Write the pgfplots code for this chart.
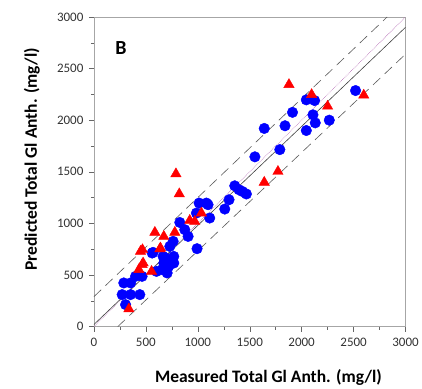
\documentclass[border=0pt]{standalone}
\usepackage{pgfplots}
\pgfplotsset{compat=1.18}
\usepackage{fontspec}
\setmainfont{Carlito}
\begin{document}
\begin{tikzpicture}
\begin{axis}[
  scale only axis,
  width=312bp, height=310bp,
  xmin=0, xmax=3000, ymin=0, ymax=3000,
  xtick={0,500,...,3000}, ytick={0,500,...,3000},
  minor xtick={250,750,...,2750}, minor ytick={250,750,...,2750},
  tick align=outside,
  xtick pos=bottom, ytick pos=left,
  major tick length=5bp, minor tick length=3bp,
  axis line style={draw=gray!70},
  every tick/.style={draw=gray!80!black},
  /pgf/number format/assume math mode=true,
  /pgf/number format/set thousands separator={},
  tick label style={font=\fontsize{13bp}{15bp}\selectfont, text=black!80},
  xticklabel style={yshift=-3bp},
  yticklabel style={xshift=-2bp},
  xlabel={\textbf{Measured Total Gl Anth. (mg/l)}},
  ylabel={\textbf{Predicted Total Gl Anth. (mg/l)}},
  label style={font=\fontsize{17.5bp}{20bp}\selectfont},
  xlabel style={at={(axis description cs:0.56,-0.165)}, anchor=center},
  ylabel style={at={(axis description cs:-0.199,0.54)}, anchor=center},
  clip=true,
]
% 1:1 line
\addplot[densely dotted, color=violet!60, line width=0.6pt] coordinates {(0,0) (3000,3000)};
% regression line
\addplot[black!75, line width=0.6pt] coordinates {(0,20) (3000,2900)};
% prediction bounds
\addplot[black!65, line width=0.6pt, dash pattern=on 10bp off 6bp] coordinates {(0,290) (2823,3000)};
\addplot[black!65, line width=0.6pt, dash pattern=on 10bp off 6bp] coordinates {(230,0) (3000,2640)};
% blue circles
\addplot[only marks, mark=*, mark size=5.3bp, mark options={draw=blue, fill=blue}] coordinates {
(272,310) (353,310) (442,310) (305,213) (288,423) (353,423) (401,487) (464,487)
(561,713) (570,719) (603,535) (657,552) (705,520) (673,616) (721,584) (689,665)
(769,680) (769,616) (666,680) (699,648) (731,777) (763,826) (827,1009) (875,939)
(907,874) (993,755) (987,1100) (1013,1197) (1099,1181) (1115,1052) (1083,1197)
(1260,1139) (1301,1229) (1356,1364) (1397,1326) (1430,1309) (1468,1285)
(1550,1645) (1640,1920) (1790,1715) (1840,1946) (1912,2076) (2045,2197) (2125,2190)
(2045,1900) (2109,2052) (2131,1974) (2266,2000) (2519,2287)
};
% red triangles
\addplot[only marks, mark=triangle*, mark size=6bp, mark options={draw=red, fill=red}] coordinates {
(337,171) (433,552) (464,600) (474,616) (449,729) (468,745) (555,535)
(635,752) (641,761) (587,913) (673,874) (779,913) (790,1480) (822,1286)
(923,1029) (971,1019) (1035,1100) (1640,1398) (1772,1503) (1878,2345)
(2096,2248) (2250,2135) (2598,2242)
};
\node[font=\fontsize{20bp}{22bp}\selectfont\bfseries, anchor=center] at (axis cs:260,2700) {B};
\end{axis}
\path ([shift={(-94bp,-62bp)}]current axis.south west) rectangle ++(422bp,389bp);
\end{tikzpicture}
\end{document}
